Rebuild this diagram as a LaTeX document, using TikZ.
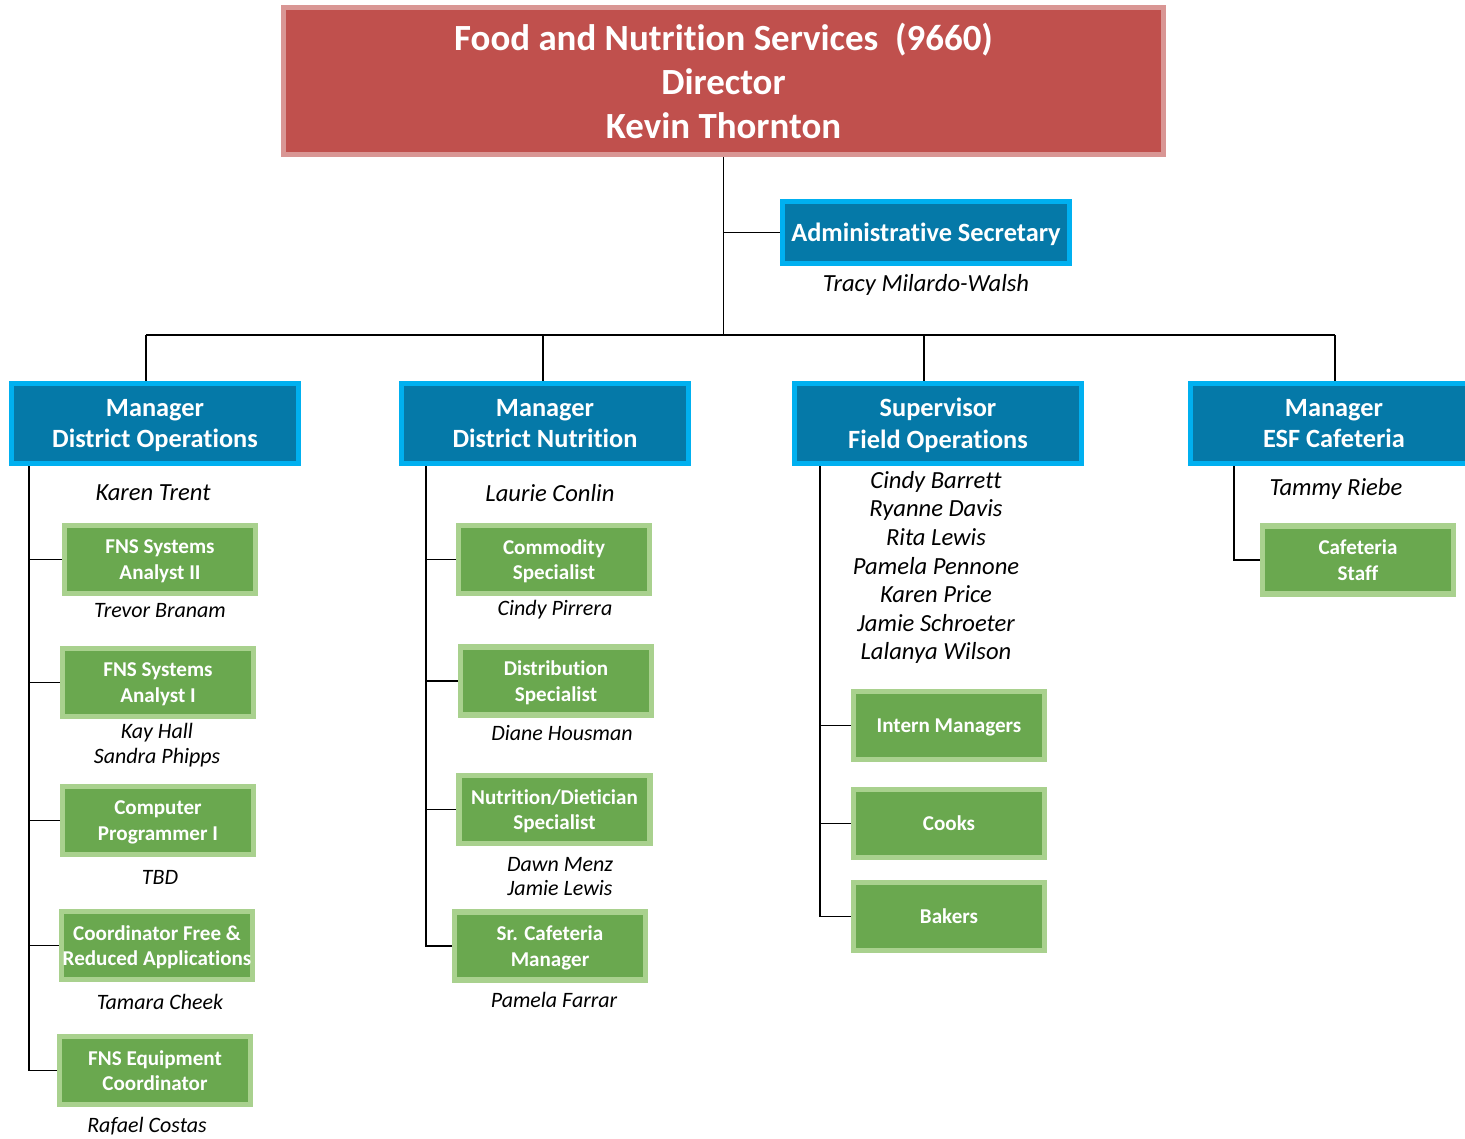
\documentclass[tikz,border=0pt]{standalone}
\usepackage{fontspec}
\setmainfont[Ligatures=NoCommon]{Carlito}
\definecolor{headfill}{HTML}{C0504D}
\definecolor{headline}{HTML}{D99694}
\definecolor{bluefill}{HTML}{0579A8}
\definecolor{blueline}{HTML}{00B0F0}
\definecolor{greenfill}{HTML}{6AA84F}
\definecolor{greenline}{HTML}{A9D18E}
\tikzset{
  headbox/.style={draw=headline, fill=headfill, line width=3pt, text=white, align=center,
    minimum width=17.6cm, minimum height=2.94cm, inner sep=0pt,
    font=\bfseries\fontsize{21}{25}\selectfont},
  bluebox/.style={draw=blueline, fill=bluefill, line width=3pt, text=white, align=center,
    minimum width=5.74cm, minimum height=1.6cm, inner sep=0pt, text depth=0pt,
    font=\bfseries\fontsize{15}{18}\selectfont},
  greenbox/.style={draw=greenline, fill=greenfill, line width=3pt, text=white, align=center,
    minimum width=3.82cm, minimum height=1.36cm, inner sep=0pt, text depth=0pt,
    font=\bfseries\fontsize{12}{14.5}\selectfont},
  namelabel/.style={align=center, font=\itshape\fontsize{12.5}{14}\selectfont},
  biglabel/.style={align=center, font=\itshape\fontsize{14}{16.3}\selectfont},
  link/.style={line width=1.1pt, draw=black},
}
\begin{document}
\begin{tikzpicture}
\useasboundingbox (0,0) rectangle (29.3,-22.78);
\node[headbox] (fns) at (14.47,-1.62) {Food and Nutrition Services~~(9660)\\Director\\Kevin Thornton};
\node[bluebox, minimum height=1.24cm] (sec) at (18.52,-4.65) {Administrative Secretary};
\node[biglabel] (secname) at (18.52,-5.70) {Tracy Milardo-Walsh};
\node[bluebox] (ops) at (3.10,-8.47) {Manager\\District Operations};
\node[bluebox] (nut) at (10.90,-8.47) {Manager\\District Nutrition};
\node[bluebox] (field) at (18.76,-8.47) {Supervisor\\Field Operations};
\node[bluebox] (esf) at (26.68,-8.47) {Manager\\ESF Cafeteria};
\coordinate (bus) at (14.47,-6.70);
\coordinate (opsdrop) at (2.92,-6.70);
\coordinate (nutdrop) at (10.86,-6.70);
\coordinate (fielddrop) at (18.48,-6.70);
\coordinate (esfdrop) at (26.70,-6.70);
\draw[link] (fns.south) -- (bus);
\draw[link] (fns.south |- sec.west) -- (sec.west);
\draw[link] (opsdrop) -- (esfdrop);
\draw[link] (opsdrop) -- (opsdrop |- ops.north);
\draw[link] (nutdrop) -- (nutdrop |- nut.north);
\draw[link] (fielddrop) -- (fielddrop |- field.north);
\draw[link] (esfdrop) -- (esfdrop |- esf.north);
\node[biglabel] (opsname) at (3.06,-9.86) {Karen Trent};
\node[greenbox] (analysttwo) at (3.20,-11.19) {FNS Systems\\Analyst II};
\node[namelabel] (analysttwoname) at (3.20,-12.22) {Trevor Branam};
\node[greenbox] (analystone) at (3.16,-13.65) {FNS Systems\\Analyst I};
\node[namelabel] (analystonename) at (3.14,-14.90) {Kay Hall\\Sandra Phipps};
\node[greenbox] (prog) at (3.16,-16.41) {Computer\\Programmer I};
\node[namelabel] (progname) at (3.20,-17.54) {TBD};
\node[greenbox] (freered) at (3.14,-18.91) {Coordinator Free \&\\Reduced Applications};
\node[namelabel] (freeredname) at (3.20,-20.04) {Tamara Cheek};
\node[greenbox] (equip) at (3.10,-21.41) {FNS Equipment\\Coordinator};
\node[namelabel] (equipname) at (2.94,-22.52) {Rafael Costas};
\coordinate (opsline) at (0.58,-8.47);
\draw[link] (opsline |- ops.south) -- (opsline |- equip.west) -- (equip.west);
\draw[link] (opsline |- analysttwo.west) -- (analysttwo.west);
\draw[link] (opsline |- analystone.west) -- (analystone.west);
\draw[link] (opsline |- prog.west) -- (prog.west);
\draw[link] (opsline |- freered.west) -- (freered.west);
\node[biglabel] (nutname) at (11.00,-9.86) {Laurie Conlin};
\node[greenbox] (comm) at (11.08,-11.19) {Commodity\\Specialist};
\node[namelabel] (commname) at (11.10,-12.20) {Cindy Pirrera};
\node[greenbox] (dist) at (11.12,-13.62) {Distribution\\Specialist};
\node[namelabel] (distname) at (11.24,-14.66) {Diane Housman};
\node[greenbox] (diet) at (11.09,-16.19) {Nutrition/Dietician\\Specialist};
\node[namelabel] (dietname) at (11.20,-17.53) {Dawn Menz\\Jamie Lewis};
\node[greenbox] (srcaf) at (11.00,-18.92) {Sr. Cafeteria\\Manager};
\node[namelabel] (srcafname) at (11.08,-20.00) {Pamela Farrar};
\coordinate (nutline) at (8.52,-8.47);
\draw[link] (nutline |- nut.south) -- (nutline |- srcaf.west) -- (srcaf.west);
\draw[link] (nutline |- comm.west) -- (comm.west);
\draw[link] (nutline |- dist.west) -- (dist.west);
\draw[link] (nutline |- diet.west) -- (diet.west);
\node[biglabel] (fieldname) at (18.72,-11.35)
  {Cindy Barrett\\Ryanne Davis\\Rita Lewis\\Pamela Pennone\\Karen Price\\Jamie Schroeter\\Lalanya Wilson};
\node[greenbox] (intern) at (18.98,-14.51) {Intern Managers};
\node[greenbox] (cooks) at (18.98,-16.47) {Cooks};
\node[greenbox] (bakers) at (18.98,-18.33) {Bakers};
\coordinate (fieldline) at (16.40,-8.47);
\draw[link] (fieldline |- field.south) -- (fieldline |- bakers.west) -- (bakers.west);
\draw[link] (fieldline |- intern.west) -- (intern.west);
\draw[link] (fieldline |- cooks.west) -- (cooks.west);
\node[biglabel] (esfname) at (26.72,-9.78) {Tammy Riebe};
\node[greenbox] (cafstaff) at (27.16,-11.20) {Cafeteria\\Staff};
\coordinate (esfline) at (24.68,-8.47);
\draw[link] (esfline |- esf.south) -- (esfline |- cafstaff.west) -- (cafstaff.west);
\end{tikzpicture}
\end{document}
